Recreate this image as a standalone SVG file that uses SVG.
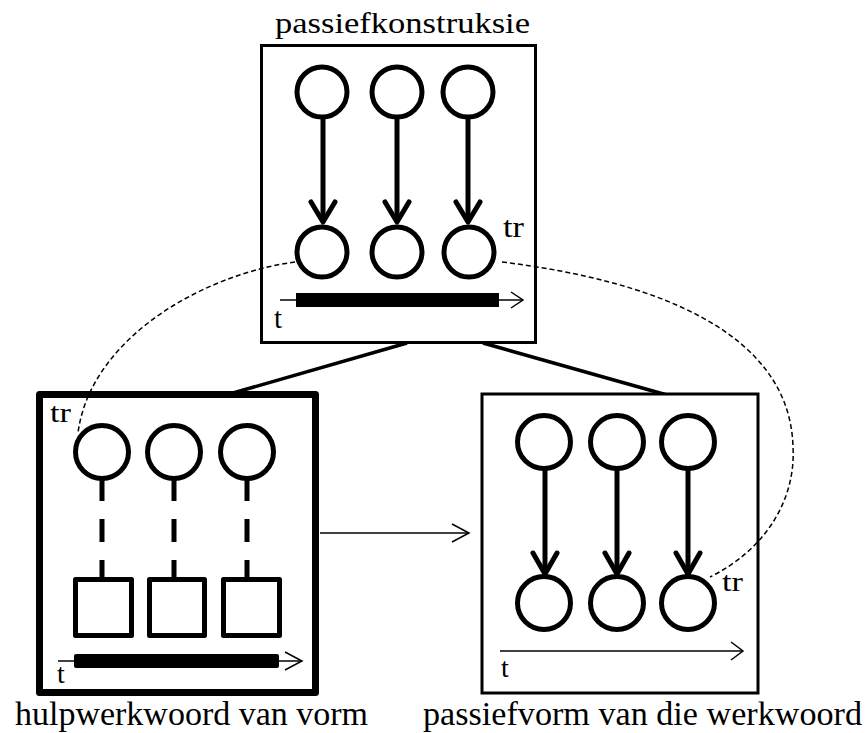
<svg xmlns="http://www.w3.org/2000/svg" width="865" height="733" viewBox="0 0 865 733">
<style>
  .bg{fill:#fff}
  .box{fill:#fff;stroke:#000;stroke-width:3}
  .boxb{fill:#fff;stroke:#000;stroke-width:7;stroke-linejoin:round}
  .c{fill:#fff;stroke:#000;stroke-width:5}
  .sq{fill:#fff;stroke:#000;stroke-width:5;stroke-linejoin:round}
  .shaft{stroke:#000;stroke-width:5;fill:none}
  .head{stroke:#000;stroke-width:5;fill:none;stroke-linecap:round;stroke-linejoin:round}
  .dash{stroke:#000;stroke-width:5;stroke-dasharray:23 18;fill:none}
  .thin{stroke:#000;stroke-width:1.5;fill:none}
  .bar{fill:#000}
  .link{stroke:#000;stroke-width:3.5;fill:none}
  .curve{stroke:#000;stroke-width:1.5;stroke-dasharray:5 3;fill:none}
  .lbl{font-family:"Liberation Serif","DejaVu Serif",serif;fill:#000}
</style>
<rect class="bg" x="0" y="0" width="865" height="733"/>

<g id="connectors">
  <line class="link" x1="407" y1="343" x2="233" y2="393"/>
  <line class="link" x1="483" y1="343" x2="667" y2="395"/>
</g>

<g id="node-top">
  <text class="lbl" x="275" y="33" font-size="30" textLength="255" lengthAdjust="spacingAndGlyphs">passiefkonstruksie</text>
  <rect class="box" x="261.5" y="45.5" width="274" height="297"/>
  <circle class="c" cx="322" cy="92" r="25"/>
  <circle class="c" cx="397" cy="92" r="25"/>
  <circle class="c" cx="468" cy="92" r="25"/>
  <circle class="c" cx="322" cy="252" r="25"/>
  <circle class="c" cx="397" cy="252" r="25"/>
  <circle class="c" cx="469" cy="252" r="25"/>
  <line class="shaft" x1="323" y1="117" x2="323" y2="222"/>
  <polyline class="head" points="311,202 323,222 335,202"/>
  <line class="shaft" x1="397" y1="117" x2="397" y2="222"/>
  <polyline class="head" points="385,202 397,222 409,202"/>
  <line class="shaft" x1="468" y1="117" x2="468" y2="222"/>
  <polyline class="head" points="456,202 468,222 480,202"/>
  <line class="thin" x1="280" y1="300" x2="523" y2="300"/>
  <polyline class="thin" points="511,292 523,300 511,308"/>
  <rect class="bar" x="296" y="293" width="203" height="14"/>
  <text class="lbl" x="274" y="328" font-size="29">t</text>
  <text class="lbl" x="503" y="237" font-size="29" textLength="21" lengthAdjust="spacingAndGlyphs">tr</text>
</g>

<g id="node-left">
  <rect class="boxb" x="39.5" y="394.5" width="276" height="298"/>
  <line class="dash" x1="102" y1="478" x2="102" y2="578"/>
  <line class="dash" x1="174" y1="478" x2="174" y2="578"/>
  <line class="dash" x1="247" y1="478" x2="247" y2="578"/>
  <circle class="c" cx="102" cy="452" r="26.5"/>
  <circle class="c" cx="174" cy="452" r="26.5"/>
  <circle class="c" cx="247" cy="452" r="26.5"/>
  <rect class="sq" x="75.5" y="579.5" width="56" height="56"/>
  <rect class="sq" x="149.5" y="579.5" width="55" height="56"/>
  <rect class="sq" x="223.5" y="579.5" width="56" height="56"/>
  <line class="thin" x1="58" y1="661" x2="302" y2="661"/>
  <polyline class="thin" points="285,652 302,661 285,670"/>
  <rect class="bar" x="74" y="654" width="205" height="14" rx="2"/>
  <text class="lbl" x="57" y="683" font-size="28">t</text>
  <text class="lbl" x="50" y="422" font-size="28" textLength="21" lengthAdjust="spacingAndGlyphs">tr</text>
  <text class="lbl" x="15" y="725" font-size="33" textLength="353" lengthAdjust="spacingAndGlyphs">hulpwerkwoord van vorm</text>
</g>

<g id="node-right">
  <rect class="box" x="482" y="394" width="276" height="299"/>
  <circle class="c" cx="544" cy="442" r="26.5"/>
  <circle class="c" cx="617" cy="442" r="26.5"/>
  <circle class="c" cx="688" cy="442" r="26.5"/>
  <circle class="c" cx="544" cy="603" r="26.5"/>
  <circle class="c" cx="617" cy="603" r="26.5"/>
  <circle class="c" cx="688" cy="603" r="26.5"/>
  <line class="shaft" x1="545" y1="468" x2="545" y2="574"/>
  <polyline class="head" points="533,553 545,574 557,553"/>
  <line class="shaft" x1="617" y1="468" x2="617" y2="574"/>
  <polyline class="head" points="605,553 617,574 629,553"/>
  <line class="shaft" x1="688" y1="468" x2="688" y2="574"/>
  <polyline class="head" points="676,553 688,574 700,553"/>
  <line class="thin" x1="500" y1="651" x2="743" y2="651"/>
  <polyline class="thin" points="731,642 743,651 731,660"/>
  <text class="lbl" x="501" y="677" font-size="28">t</text>
  <text class="lbl" x="722" y="591" font-size="28" textLength="21" lengthAdjust="spacingAndGlyphs">tr</text>
  <text class="lbl" x="423" y="725" font-size="33" textLength="439" lengthAdjust="spacingAndGlyphs">passiefvorm van die werkwoord</text>
</g>

<g id="relations">
  <line class="thin" x1="320" y1="533" x2="469" y2="533"/>
  <polyline class="thin" points="452,524 469,533 452,542"/>
  <path class="curve" d="M295,262 C200,275 90,340 78,433"/>
  <path class="curve" d="M502,262 C650,280 790,330 793,447 C796,500 765,550 710,577"/>
</g>
</svg>
